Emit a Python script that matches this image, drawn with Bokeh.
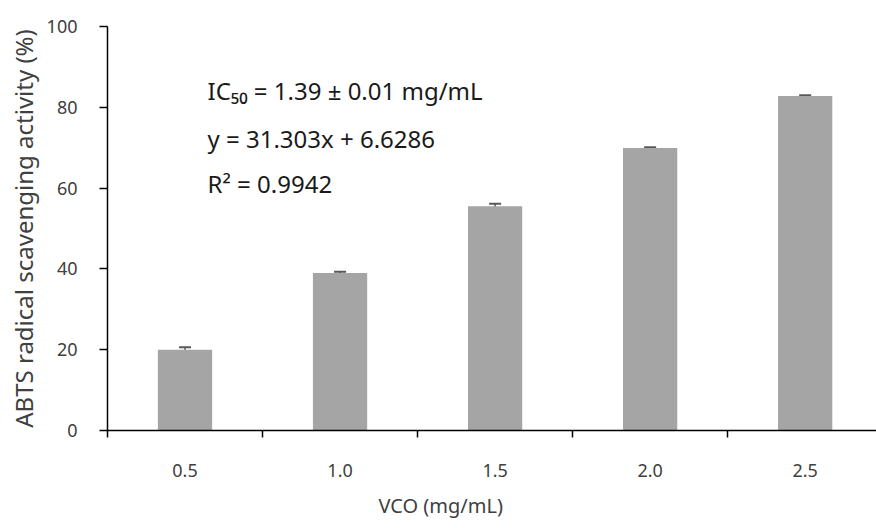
from bokeh.plotting import figure
from bokeh.models import Range1d, FixedTicker, Label, Whisker, ColumnDataSource, TeeHead, Title
from bokeh.embed import file_html
from bokeh.resources import INLINE

# ---- data ----
concentrations = ["0.5", "1.0", "1.5", "2.0", "2.5"]
activity = [20.0, 39.0, 55.5, 69.9, 82.8]
sd = [0.6, 0.3, 0.6, 0.2, 0.2]
y_ticks = [0, 20, 40, 60, 80, 100]

ic50_text = "IC\u2085\u2080 = 1.39 \u00b1 0.01 mg/mL"
eq_text = "y = 31.303x + 6.6286"
r2_text = "R\u00b2 = 0.9942"
x_title = "VCO (mg/mL)"
y_title = "ABTS radical scavenging activity (%)"

FONT = "Noto Sans"
TXT = "#404040"

pos = [i + 0.5 for i in range(len(concentrations))]
bounds = list(range(len(concentrations) + 1))

src = ColumnDataSource(dict(
    x=pos,
    top=activity,
    upper=[a + s for a, s in zip(activity, sd)],
    lower=[a - s for a, s in zip(activity, sd)],
))

p = figure(width=876, height=528, output_backend="svg", toolbar_location=None,
           x_range=Range1d(0, 4.96), y_range=Range1d(0, 100),
           min_border_left=107, min_border_right=0, min_border_top=26,
           min_border_bottom=97)
p.outline_line_color = None
p.xgrid.visible = False
p.ygrid.visible = False
p.background_fill_color = "white"
p.border_fill_color = "white"

p.vbar(x="x", top="top", width=0.35, source=src, fill_color="#a5a5a5",
       line_color=None)

wh = Whisker(base="x", upper="upper", lower="lower", source=src,
             line_color="#595959", line_width=1.5,
             upper_head=TeeHead(size=12, line_color="#595959", line_width=2),
             lower_head=TeeHead(size=12, line_color="#595959", line_width=2))
p.add_layout(wh)

# x axis
xa = p.xaxis[0]
xa.ticker = FixedTicker(ticks=pos, minor_ticks=bounds)
xa.major_label_overrides = {x: c for x, c in zip(pos, concentrations)}
xa.major_tick_out = 0
xa.major_tick_in = 0
xa.minor_tick_out = 7
xa.minor_tick_in = 0
xa.minor_tick_line_color = "black"
xa.minor_tick_line_width = 1.5
xa.axis_line_color = "black"
xa.axis_line_width = 1.5
xa.major_label_standoff = 26
xa.major_label_text_font = FONT
xa.major_label_text_font_size = "18px"
xa.major_label_text_color = TXT

# y axis
ya = p.yaxis[0]
ya.ticker = FixedTicker(ticks=y_ticks, minor_ticks=[])
ya.major_tick_out = 8
ya.major_tick_in = 0
ya.major_tick_line_color = "black"
ya.major_tick_line_width = 1.5
ya.axis_line_color = "black"
ya.axis_line_width = 1.5
ya.major_label_standoff = 22
ya.major_label_text_font = FONT
ya.major_label_text_font_size = "18px"
ya.major_label_text_color = TXT
ya.axis_label = y_title
ya.axis_label_text_font = FONT
ya.axis_label_text_font_size = "24px"
ya.axis_label_text_font_style = "normal"
ya.axis_label_text_color = TXT
ya.axis_label_standoff = 4

# x title
p.add_layout(Title(text=x_title, align="left", offset=271, standoff=20,
                   text_font=FONT, text_font_size="20px",
                   text_font_style="normal", text_color=TXT), "below")

# annotations
for txt, yy in [(ic50_text, 84.2), (eq_text, 72.3), (r2_text, 61.2)]:
    p.add_layout(Label(x=0.645, y=yy, text=txt, text_align="left",
                       text_baseline="middle", text_font=FONT,
                       text_font_size="24px", text_color="#1a1a1a"))

open("out.html", "w").write(file_html(p, INLINE))
